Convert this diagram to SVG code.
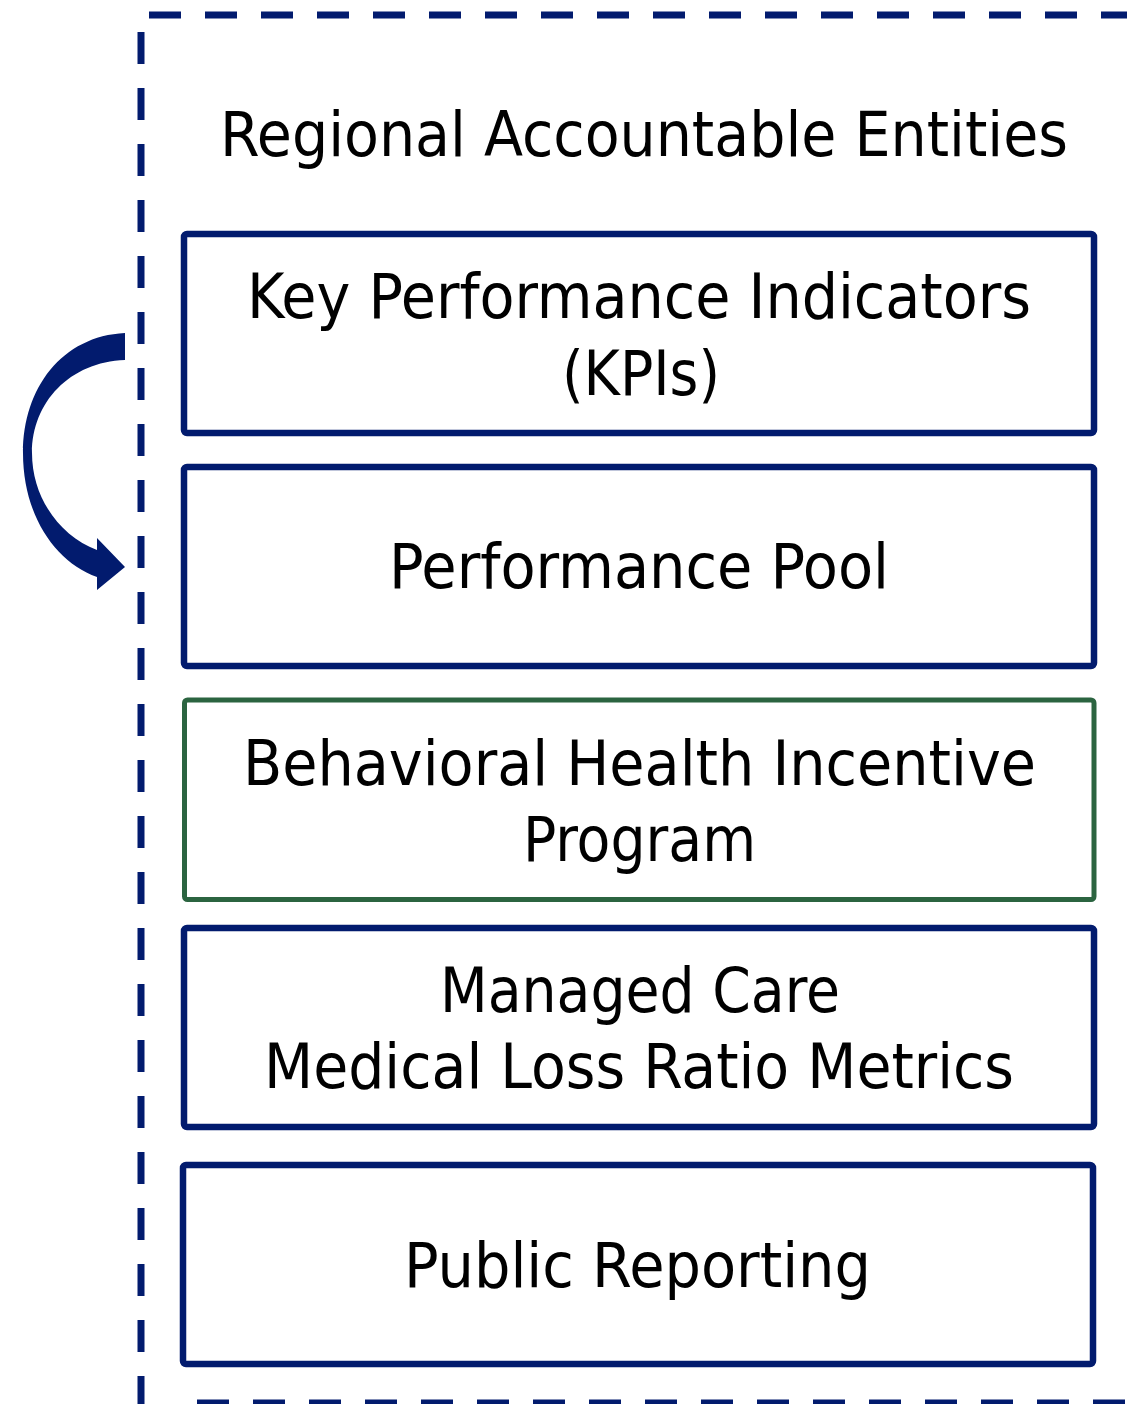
<svg xmlns="http://www.w3.org/2000/svg" width="1127" height="1404" viewBox="0 0 1127 1404">
<style>
.dash{stroke:#021b6e;stroke-width:7;stroke-dasharray:32 24;fill:none}
.box{fill:#ffffff;stroke:#021b6e;stroke-width:6.5}
.gbox{fill:#ffffff;stroke:#2b6440;stroke-width:5}
.t{font-family:"DejaVu Sans Condensed","Liberation Sans",sans-serif;font-size:62px;fill:#000;text-anchor:middle}
</style>
<rect width="1127" height="1404" fill="#ffffff"/>
<g id="container">
<line class="dash" x1="149" y1="15" x2="1127" y2="15"/>
<line class="dash" x1="141" y1="32" x2="141" y2="1404"/>
<line class="dash" x1="197" y1="1403" x2="1127" y2="1403"/>
<text class="t" x="644" y="156" textLength="848" lengthAdjust="spacingAndGlyphs">Regional Accountable Entities</text>
</g>
<g id="connectors">
<path fill="#021b6e" d="M125,333 C62,336 23,388 23,453 C23,515 55,562 97,577 L97,590 L125,567 L97,538 L97,550 C60,536 32,498 32,453 C32,402 70,362 125,360 Z"/>
</g>
<g id="kpi">
<rect class="box" x="184" y="234" width="910" height="199" rx="3"/>
<text class="t" x="639" y="318" textLength="784" lengthAdjust="spacingAndGlyphs">Key Performance Indicators</text>
<text class="t" x="641" y="395" textLength="158" lengthAdjust="spacingAndGlyphs">(KPIs)</text>
</g>
<g id="pool">
<rect class="box" x="184" y="467" width="910" height="199" rx="3"/>
<text class="t" x="639" y="588" textLength="500" lengthAdjust="spacingAndGlyphs">Performance Pool</text>
</g>
<g id="bhip">
<rect class="gbox" x="184.5" y="700" width="909.5" height="199.5" rx="3"/>
<text class="t" x="639.5" y="785" textLength="793" lengthAdjust="spacingAndGlyphs">Behavioral Health Incentive</text>
<text class="t" x="639.5" y="861" textLength="233" lengthAdjust="spacingAndGlyphs">Program</text>
</g>
<g id="mlr">
<rect class="box" x="184" y="928" width="910" height="199" rx="3"/>
<text class="t" x="640" y="1012" textLength="400" lengthAdjust="spacingAndGlyphs">Managed Care</text>
<text class="t" x="639" y="1088" textLength="750" lengthAdjust="spacingAndGlyphs">Medical Loss Ratio Metrics</text>
</g>
<g id="public">
<rect class="box" x="183" y="1165" width="910" height="199" rx="3"/>
<text class="t" x="637.5" y="1287" textLength="467" lengthAdjust="spacingAndGlyphs">Public Reporting</text>
</g>
</svg>
